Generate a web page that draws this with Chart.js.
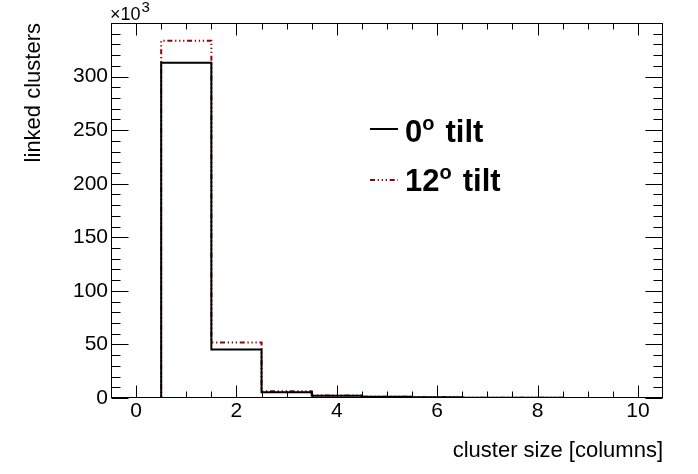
<!DOCTYPE html>
<html><head><meta charset="utf-8">
<script src="https://cdn.jsdelivr.net/npm/chart.js@4"></script>
<style>html,body{margin:0;padding:0;background:#fff;overflow:hidden}</style>
</head><body>
<canvas id="c" width="698" height="474" style="display:block;width:698px;height:474px"></canvas>
<script>
// ---- data (values in units of 10^3 linked clusters) ----
const clusterSizes = [0, 1, 2, 3, 4, 5, 6, 7, 8, 9, 10];
const tilt0Counts  = [0, 313, 45.2, 5.3, 2.2, 1.1, 0.7, 0.2, 0.15, 0.1, 0.1];
const tilt12Counts = [0, 333.5, 51.7, 6.3, 2.4, 1.2, 0.8, 0.25, 0.15, 0.1, 0.1];
const xTickLabels = [0, 2, 4, 6, 8, 10];
const yTickLabels = [0, 50, 100, 150, 200, 250, 300];
const legendMain = ['0', '12'];
const legendSup = ['o', 'o'];
const legendTail = ['tilt', 'tilt'];
const xTitle = 'cluster size [columns]';
const yTitle = 'linked clusters';
const expBase = '\u00d710';
const expPow = '3';

const FONT = '"Liberation Sans", Arial, Helvetica, sans-serif';
const RED = '#990000';
const DASH = [5, 2.7, 1.3, 2.7, 1.3, 2.7, 1.3, 2.7];

function histSteps(vals) {
  const pts = vals.map((v, i) => ({x: clusterSizes[i] - 0.5, y: v}));
  const last = vals.length - 1;
  pts.push({x: clusterSizes[last] + 0.5, y: vals[last]});
  return pts;
}

const rootStyle = {
  id: 'rootStyle',
  afterDraw(chart) {
    const {ctx, chartArea: a, scales: {x, y}} = chart;
    ctx.save();
    ctx.strokeStyle = '#000';
    ctx.lineWidth = 1;
    const L = Math.round(a.left) + 0.5, R = Math.round(a.right) - 0.5;
    const T = Math.round(a.top) + 0.5, B = Math.round(a.bottom) - 0.5;
    ctx.strokeRect(L, T, R - L, B - T);
    ctx.beginPath();
    // x ticks (bottom and top)
    for (let v = 0; v <= 10.001; v += 0.5) {
      const px = Math.round(x.getPixelForValue(v)) + 0.5;
      const len = xTickLabels.includes(v) ? 12 : 6;
      ctx.moveTo(px, B); ctx.lineTo(px, B - len);
      ctx.moveTo(px, T); ctx.lineTo(px, T + len);
    }
    // y ticks (left and right)
    for (let v = 0; v < y.max; v += 10) {
      const py = Math.round(y.getPixelForValue(v)) + 0.5;
      const len = (v % 50 === 0) ? 17 : 9;
      ctx.moveTo(L, py); ctx.lineTo(L + len, py);
      ctx.moveTo(R, py); ctx.lineTo(R - len, py);
    }
    ctx.stroke();

    // exponent label
    ctx.fillStyle = '#000';
    ctx.textBaseline = 'alphabetic';
    ctx.textAlign = 'left';
    ctx.font = '18px ' + FONT;
    ctx.fillText(expBase, 110, 20);
    const wb = ctx.measureText(expBase).width;
    ctx.font = '15px ' + FONT;
    ctx.fillText(expPow, 110 + wb + 1, 12);

    // legend
    const rows = [
      {ly: 129, base: 142, color: '#000', dash: []},
      {ly: 180, base: 191, color: RED, dash: DASH}
    ];
    rows.forEach((r, i) => {
      ctx.save();
      ctx.strokeStyle = r.color;
      ctx.lineWidth = 2;
      ctx.setLineDash(r.dash);
      ctx.beginPath();
      ctx.moveTo(370, r.ly); ctx.lineTo(398, r.ly);
      ctx.stroke();
      ctx.restore();
      let tx = 405;
      ctx.font = 'bold 31px ' + FONT;
      ctx.fillText(legendMain[i], tx, r.base);
      tx += ctx.measureText(legendMain[i]).width;
      ctx.font = 'bold 20px ' + FONT;
      ctx.fillText(legendSup[i], tx, r.base - 12);
      tx += ctx.measureText(legendSup[i]).width + 11;
      ctx.font = 'bold 31px ' + FONT;
      ctx.fillText(legendTail[i], tx, r.base);
    });
    ctx.restore();
  }
};

new Chart(document.getElementById('c'), {
  type: 'line',
  data: {
    datasets: [
      {
        label: '0 tilt',
        data: histSteps(tilt0Counts),
        stepped: true,
        borderColor: '#000',
        borderWidth: 2,
        pointRadius: 0,
        fill: false,
        clip: {left: 1, right: 1, top: 1, bottom: -1}
      },
      {
        label: '12 tilt',
        data: histSteps(tilt12Counts),
        stepped: true,
        borderColor: RED,
        borderWidth: 2,
        borderDash: DASH,
        pointRadius: 0,
        fill: false
      }
    ]
  },
  options: {
    responsive: false,
    animation: false,
    devicePixelRatio: 1,
    layout: {padding: {top: 23, right: 35, left: 0, bottom: 0}},
    plugins: {legend: {display: false}, tooltip: {enabled: false}},
    scales: {
      x: {
        type: 'linear',
        min: -0.5,
        max: 10.5,
        afterBuildTicks: s => { s.ticks = xTickLabels.map(v => ({value: v})); },
        afterFit: s => { s.height = 76; },
        ticks: {color: '#000', font: {family: FONT, size: 21}, padding: 1, maxRotation: 0, autoSkip: false},
        grid: {display: false, drawTicks: false},
        border: {display: false},
        title: {display: true, text: xTitle, align: 'end', color: '#000',
                font: {family: FONT, size: 22}, padding: {top: 0, bottom: 10}}
      },
      y: {
        type: 'linear',
        min: 0,
        max: 350,
        afterBuildTicks: s => { s.ticks = yTickLabels.map(v => ({value: v})); },
        afterFit: s => { s.width = 111; },
        ticks: {color: '#000', font: {family: FONT, size: 21}, padding: 3},
        grid: {display: false, drawTicks: false},
        border: {display: false},
        title: {display: true, text: yTitle, align: 'end', color: '#000',
                font: {family: FONT, size: 22}, padding: {top: 21, bottom: 0}}
      }
    }
  },
  plugins: [rootStyle]
});
</script>
</body></html>
